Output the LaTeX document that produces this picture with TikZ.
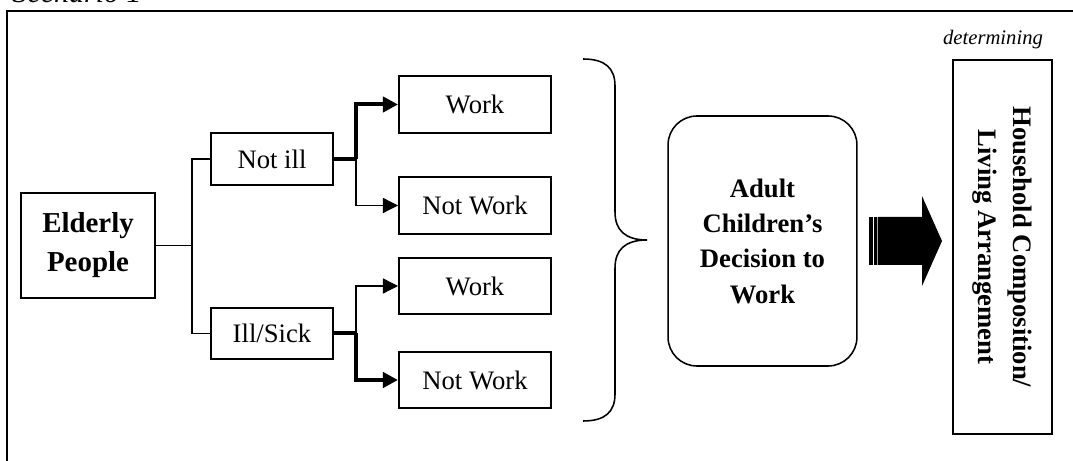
\documentclass[tikz,border=0pt]{standalone}
\usepackage{fontspec}
\setmainfont{Liberation Serif}
\usepackage{tikz}
\usetikzlibrary{arrows.meta}

\begin{document}
\begin{tikzpicture}[
        x=0.45pt, y=-0.45pt,
        font=\fontsize{12}{14}\selectfont, >=Triangle,
        box/.style={draw, line width=0.9pt, fill=white, align=center, inner sep=2pt},
        opt/.style={box, minimum width=54.9pt, minimum height=23.2pt},
        res/.style={box, minimum width=68.4pt, minimum height=25.6pt},
        rbox/.style={draw, line width=0.7pt, rounded corners=13pt, align=center, minimum width=85pt, minimum height=112.5pt},
        thn/.style={line width=0.6pt},
        thk/.style={line width=1.8pt},
        arr/.style={-{Triangle[length=6.8pt, width=6.8pt]}}]
        \useasboundingbox (0,0) rectangle (1073,461);
        \clip (0,0) rectangle (1073,461);
        % title and frame
        \node[anchor=base west, inner sep=0pt, font=\fontsize{13.5}{16}\selectfont\itshape] (title) at (12,3) {Scenario 1};
        \draw[line width=0.9pt] (7,480) -- (7,11) -- (1090,11);
        % tree
        \node[box, minimum width=60.3pt, minimum height=47.2pt, font=\fontsize{13}{17.5}\selectfont\bfseries] (eld) at (88,245.5) {Elderly\\People};
        \node[opt] (nill) at (272,159) {Not ill};
        \node[opt] (sick) at (272,333.5) {Ill/Sick};
        \node[res] (work1) at (475,104.5) {Work};
        \node[res] (nwork1) at (475,205.5) {Not Work};
        \node[res] (work2) at (475,286) {Work};
        \node[res] (nwork2) at (475,380) {Not Work};
        \coordinate (j0) at (192,245.5);
        \draw[thn] (eld.east) -- (j0); \draw[thn] (nill.west) -| (j0) |- (sick.west);
        \draw[thk] (nill.east) -- ++(22,0) coordinate (j1);
        \draw[thk, arr] (j1) |- (work1.west); \draw[thn, arr] (j1) |- (nwork1.west);
        \draw[thk] (sick.east) -- ++(22,0) coordinate (j2);
        \draw[thn, arr] (j2) |- (work2.west); \draw[thk, arr] (j2) |- (nwork2.west);
        % brace
        \draw[line width=0.7pt] (583,59) .. controls (605,59) and (615,68) .. (615,86) -- (615,212)
              .. controls (615,230) and (625,240) .. (647,240)
              .. controls (625,240) and (615,250) .. (615,268) -- (615,394)
              .. controls (615,412) and (605,421) .. (583,421);
        % decision and outcome
        \node[rbox, font=\fontsize{12}{15.9}\selectfont\bfseries] (adult) at (762.5,241) {Adult\\Children's\\Decision to\\Work};
        \node[box, rotate=-90, minimum width=168.3pt, minimum height=44.5pt, font=\fontsize{12}{16}\selectfont\bfseries] (hh) at (1002.5,247) {Household Composition/\\Living Arrangement};
        \node[anchor=base, inner sep=0pt, font=\fontsize{9.3}{11}\selectfont\itshape] (det) at (993,45) {determining};
        % striped block arrow
        \fill (869,217) rectangle (872.5,265); \fill (873.5,217) rectangle (876.5,265);
        \fill (877.5,217) -- (922,217) -- (922,196) -- (942,241) -- (922,286) -- (922,265) -- (877.5,265) -- cycle;
      \end{tikzpicture}
\end{document}
